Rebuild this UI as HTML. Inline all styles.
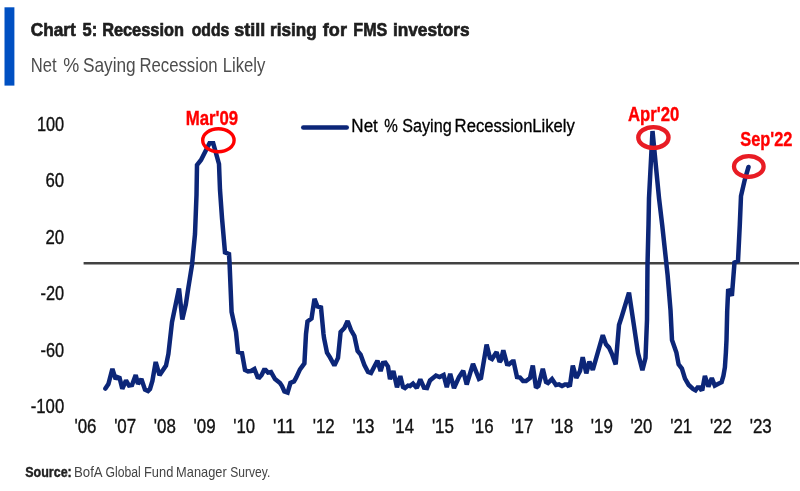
<!DOCTYPE html>
<html lang="en">
<head>
<meta charset="utf-8">
<title>Chart 5: Recession odds still rising for FMS investors</title>
<style>
html,body{margin:0;padding:0;background:#fff;}
body{width:800px;height:491px;overflow:hidden;font-family:"Liberation Sans",sans-serif;}
svg{display:block;}
text{font-family:"Liberation Sans",sans-serif;}
</style>
</head>
<body>
<svg width="800" height="491" viewBox="0 0 800 491">
<rect x="0" y="0" width="800" height="491" fill="#ffffff"/>
<rect x="4.5" y="7.3" width="9.9" height="78.3" fill="#0050c2"/>
<line x1="83.6" y1="263.2" x2="799" y2="263.2" stroke="#424242" stroke-width="2.4"/>
<polyline fill="none" stroke="#0c2678" stroke-width="4.5" stroke-linejoin="miter" stroke-miterlimit="1.6" stroke-linecap="round" points="105.4,388.6 108.4,384.0 112.4,368.8 115.6,379.2 117.0,377.0 119.6,378.0 122.3,388.7 126.0,380.5 129.0,385.6 132.0,385.0 135.7,375.0 138.0,383.9 141.4,379.0 145.0,389.6 148.0,391.0 150.0,389.0 152.4,381.0 155.7,362.0 159.5,375.2 166.0,365.6 168.4,354.0 172.0,322.0 179.0,288.5 182.3,319.5 185.8,304.5 188.3,288.0 192.0,265.0 195.0,234.0 196.5,195.0 197.0,165.0 201.0,160.0 209.5,143.2 213.2,143.2 219.0,164.0 220.0,190.0 222.0,218.0 225.0,252.4 229.0,254.0 229.5,262.0 231.6,312.0 236.0,332.0 238.0,352.0 242.0,353.0 245.0,370.0 248.0,371.4 251.0,371.0 254.4,369.0 257.6,377.0 259.4,377.4 261.6,375.0 264.0,370.0 265.6,370.0 268.0,372.6 271.0,372.0 275.0,379.0 280.0,383.0 282.0,386.0 284.4,391.4 287.6,392.6 290.4,383.0 294.0,381.4 296.0,378.0 300.0,369.4 304.4,363.4 306.0,334.0 307.5,321.5 311.5,318.5 314.5,298.9 317.5,306.5 321.0,307.5 323.5,334.0 324.0,338.0 327.0,352.6 330.0,357.4 334.4,365.5 338.0,358.0 340.6,332.0 344.4,328.0 347.6,321.0 351.0,330.0 354.4,336.0 357.6,351.0 360.6,354.6 364.4,365.0 368.0,372.0 371.0,373.0 373.6,368.0 377.4,360.7 380.6,371.2 383.0,363.0 385.4,362.6 388.0,366.6 390.0,379.2 393.4,371.1 397.0,387.3 400.3,376.1 403.0,387.0 405.0,388.0 408.0,385.6 410.0,386.0 413.0,383.6 416.8,388.0 420.3,379.4 424.0,387.6 427.0,388.0 430.0,380.4 436.0,375.6 439.6,377.0 443.6,375.0 446.8,387.1 450.2,373.7 454.0,388.1 459.0,377.0 463.2,370.8 466.7,384.5 473.0,363.8 479.0,379.0 481.0,378.0 486.6,344.6 490.0,358.0 492.0,359.0 496.6,352.1 499.6,361.8 501.0,360.0 503.3,350.3 507.0,364.0 509.0,364.4 512.4,361.6 513.6,361.6 517.0,377.0 520.0,377.6 523.0,381.0 526.0,381.0 530.0,378.0 532.8,365.6 536.0,387.8 538.4,386.0 542.8,368.7 546.0,382.0 548.0,383.0 552.0,379.0 556.0,385.0 559.0,384.4 562.0,386.0 565.0,384.4 567.0,384.4 568.0,385.6 570.0,385.0 572.8,365.6 576.3,378.0 580.0,371.0 582.7,357.2 586.3,373.3 589.4,361.6 592.8,369.8 602.8,335.2 606.0,344.4 609.0,347.6 612.0,354.0 615.7,364.4 619.0,325.0 621.6,317.0 629.0,292.6 634.0,326.0 638.0,353.0 642.4,370.3 645.5,358.0 647.0,320.0 647.5,265.0 648.5,225.0 649.0,198.0 652.5,131.0 659.0,198.0 662.2,225.0 667.6,275.0 670.5,310.0 672.0,340.0 676.4,352.6 678.6,364.3 681.9,368.6 685.0,378.7 688.7,385.0 693.0,389.0 695.5,390.4 697.6,387.5 699.8,387.5 701.0,389.4 702.5,389.0 704.9,375.9 708.4,386.6 711.8,378.0 714.8,385.6 718.4,383.7 721.6,382.2 723.4,376.0 724.9,367.3 725.9,352.4 726.5,340.0 727.2,311.0 728.2,289.1 731.9,295.7 734.5,262.5 738.0,261.0 739.8,224.6 741.0,196.0 744.7,180.0 748.5,167.0"/>
<line x1="303.3" y1="127.5" x2="346.7" y2="127.5" stroke="#0c2678" stroke-width="4.6" stroke-linecap="round"/>
<g fill="none">
<ellipse cx="218.4" cy="140.2" rx="15.7" ry="11.5" stroke="#ff0000" stroke-width="3.4"/>
<ellipse cx="653.4" cy="137.5" rx="15.1" ry="10.4" stroke="#e81c24" stroke-width="4.4"/>
<ellipse cx="748.8" cy="166.5" rx="14.8" ry="10.4" stroke="#e81c24" stroke-width="4.3"/>
</g>
<text transform="translate(30.71 35.50) scale(0.8980 1)" font-size="19.2" font-weight="bold" fill="#1e1e1e" stroke="#1e1e1e" stroke-width="0.7">Chart</text>
<text transform="translate(82.59 35.50) scale(0.8565 1)" font-size="19.2" font-weight="bold" fill="#1e1e1e" stroke="#1e1e1e" stroke-width="0.7">5:</text>
<text transform="translate(102.13 35.50) scale(0.8518 1)" font-size="19.2" font-weight="bold" fill="#1e1e1e" stroke="#1e1e1e" stroke-width="0.7">Recession</text>
<text transform="translate(191.66 35.50) scale(0.8205 1)" font-size="19.2" font-weight="bold" fill="#1e1e1e" stroke="#1e1e1e" stroke-width="0.7">odds</text>
<text transform="translate(234.29 35.50) scale(0.9349 1)" font-size="19.2" font-weight="bold" fill="#1e1e1e" stroke="#1e1e1e" stroke-width="0.7">still</text>
<text transform="translate(270.08 35.50) scale(0.8927 1)" font-size="19.2" font-weight="bold" fill="#1e1e1e" stroke="#1e1e1e" stroke-width="0.7">rising</text>
<text transform="translate(322.87 35.50) scale(0.9392 1)" font-size="19.2" font-weight="bold" fill="#1e1e1e" stroke="#1e1e1e" stroke-width="0.7">for</text>
<text transform="translate(353.35 35.50) scale(0.8372 1)" font-size="19.2" font-weight="bold" fill="#1e1e1e" stroke="#1e1e1e" stroke-width="0.7">FMS</text>
<text transform="translate(392.97 35.50) scale(0.8982 1)" font-size="19.2" font-weight="bold" fill="#1e1e1e" stroke="#1e1e1e" stroke-width="0.7">investors</text>
<text transform="translate(30.70 72.00) scale(0.8100 1)" font-size="20.5" fill="#4d4d4d">Net</text>
<text transform="translate(63.14 72.00) scale(0.8777 1)" font-size="20.5" fill="#4d4d4d">%</text>
<text transform="translate(82.96 72.00) scale(0.8425 1)" font-size="20.5" fill="#4d4d4d">Saying</text>
<text transform="translate(139.39 72.00) scale(0.8165 1)" font-size="20.5" fill="#4d4d4d">Recession</text>
<text transform="translate(222.70 72.00) scale(0.8148 1)" font-size="20.5" fill="#4d4d4d">Likely</text>
<text transform="translate(36.88 130.90) scale(0.8273 1)" font-size="19.8" fill="#111" stroke="#111" stroke-width="0.35">100</text>
<text transform="translate(45.51 187.35) scale(0.8494 1)" font-size="19.8" fill="#111" stroke="#111" stroke-width="0.35">60</text>
<text transform="translate(45.51 243.80) scale(0.8494 1)" font-size="19.8" fill="#111" stroke="#111" stroke-width="0.35">20</text>
<text transform="translate(40.59 300.25) scale(0.8253 1)" font-size="19.8" fill="#111" stroke="#111" stroke-width="0.35">-20</text>
<text transform="translate(40.59 356.70) scale(0.8253 1)" font-size="19.8" fill="#111" stroke="#111" stroke-width="0.35">-60</text>
<text transform="translate(30.78 413.15) scale(0.8438 1)" font-size="19.8" fill="#111" stroke="#111" stroke-width="0.35">-100</text>
<text transform="translate(74.41 433.10) scale(0.8557 1)" font-size="19.8" fill="#111" stroke="#111" stroke-width="0.35">'06</text>
<text transform="translate(114.13 433.10) scale(0.8557 1)" font-size="19.8" fill="#111" stroke="#111" stroke-width="0.35">'07</text>
<text transform="translate(153.85 433.10) scale(0.8557 1)" font-size="19.8" fill="#111" stroke="#111" stroke-width="0.35">'08</text>
<text transform="translate(193.57 433.10) scale(0.8557 1)" font-size="19.8" fill="#111" stroke="#111" stroke-width="0.35">'09</text>
<text transform="translate(233.30 433.10) scale(0.8449 1)" font-size="19.8" fill="#111" stroke="#111" stroke-width="0.35">'10</text>
<text transform="translate(272.95 433.10) scale(0.9114 1)" font-size="19.8" fill="#111" stroke="#111" stroke-width="0.35">'11</text>
<text transform="translate(312.73 433.10) scale(0.8557 1)" font-size="19.8" fill="#111" stroke="#111" stroke-width="0.35">'12</text>
<text transform="translate(352.45 433.10) scale(0.8557 1)" font-size="19.8" fill="#111" stroke="#111" stroke-width="0.35">'13</text>
<text transform="translate(392.18 433.10) scale(0.8449 1)" font-size="19.8" fill="#111" stroke="#111" stroke-width="0.35">'14</text>
<text transform="translate(431.89 433.10) scale(0.8557 1)" font-size="19.8" fill="#111" stroke="#111" stroke-width="0.35">'15</text>
<text transform="translate(471.61 433.10) scale(0.8557 1)" font-size="19.8" fill="#111" stroke="#111" stroke-width="0.35">'16</text>
<text transform="translate(511.33 433.10) scale(0.8557 1)" font-size="19.8" fill="#111" stroke="#111" stroke-width="0.35">'17</text>
<text transform="translate(551.05 433.10) scale(0.8557 1)" font-size="19.8" fill="#111" stroke="#111" stroke-width="0.35">'18</text>
<text transform="translate(590.77 433.10) scale(0.8557 1)" font-size="19.8" fill="#111" stroke="#111" stroke-width="0.35">'19</text>
<text transform="translate(630.50 433.10) scale(0.8449 1)" font-size="19.8" fill="#111" stroke="#111" stroke-width="0.35">'20</text>
<text transform="translate(670.21 433.10) scale(0.8557 1)" font-size="19.8" fill="#111" stroke="#111" stroke-width="0.35">'21</text>
<text transform="translate(709.93 433.10) scale(0.8557 1)" font-size="19.8" fill="#111" stroke="#111" stroke-width="0.35">'22</text>
<text transform="translate(749.65 433.10) scale(0.8557 1)" font-size="19.8" fill="#111" stroke="#111" stroke-width="0.35">'23</text>
<text transform="translate(351.37 131.50) scale(0.9000 1)" font-size="18.9" fill="#000" stroke="#000" stroke-width="0.3">Net</text>
<text transform="translate(384.22 131.50) scale(0.8050 1)" font-size="18.9" fill="#000" stroke="#000" stroke-width="0.3">%</text>
<text transform="translate(402.19 131.50) scale(0.8568 1)" font-size="18.9" fill="#000" stroke="#000" stroke-width="0.3">Saying</text>
<text transform="translate(454.60 131.50) scale(0.8821 1)" font-size="18.9" fill="#000" stroke="#000" stroke-width="0.3">Recession</text>
<text transform="translate(532.30 131.50) scale(0.8817 1)" font-size="18.9" fill="#000" stroke="#000" stroke-width="0.3">Likely</text>
<text transform="translate(185.65 124.80) scale(0.8487 1)" font-size="19.8" font-weight="bold" fill="#ff0000" stroke="#ff0000" stroke-width="0.35">Mar'09</text>
<text transform="translate(628.04 120.70) scale(0.8526 1)" font-size="19.6" font-weight="bold" fill="#ff0000" stroke="#ff0000" stroke-width="0.35">Apr'20</text>
<text transform="translate(740.34 146.30) scale(0.8359 1)" font-size="19.6" font-weight="bold" fill="#ff0000" stroke="#ff0000" stroke-width="0.35">Sep'22</text>
<text transform="translate(25.20 477.10) scale(0.8241 1)" font-size="15.2" font-weight="bold" fill="#222" stroke="#222" stroke-width="0.4">Source:</text>
<text transform="translate(73.97 477.10) scale(0.8700 1)" font-size="15.2" fill="#444">BofA</text>
<text transform="translate(105.53 477.10) scale(0.8029 1)" font-size="15.2" fill="#444">Global</text>
<text transform="translate(143.99 477.10) scale(0.8465 1)" font-size="15.2" fill="#444">Fund</text>
<text transform="translate(176.10 477.10) scale(0.8446 1)" font-size="15.2" fill="#444">Manager</text>
<text transform="translate(230.32 477.10) scale(0.7929 1)" font-size="15.2" fill="#444">Survey.</text>
</svg>
</body>
</html>
